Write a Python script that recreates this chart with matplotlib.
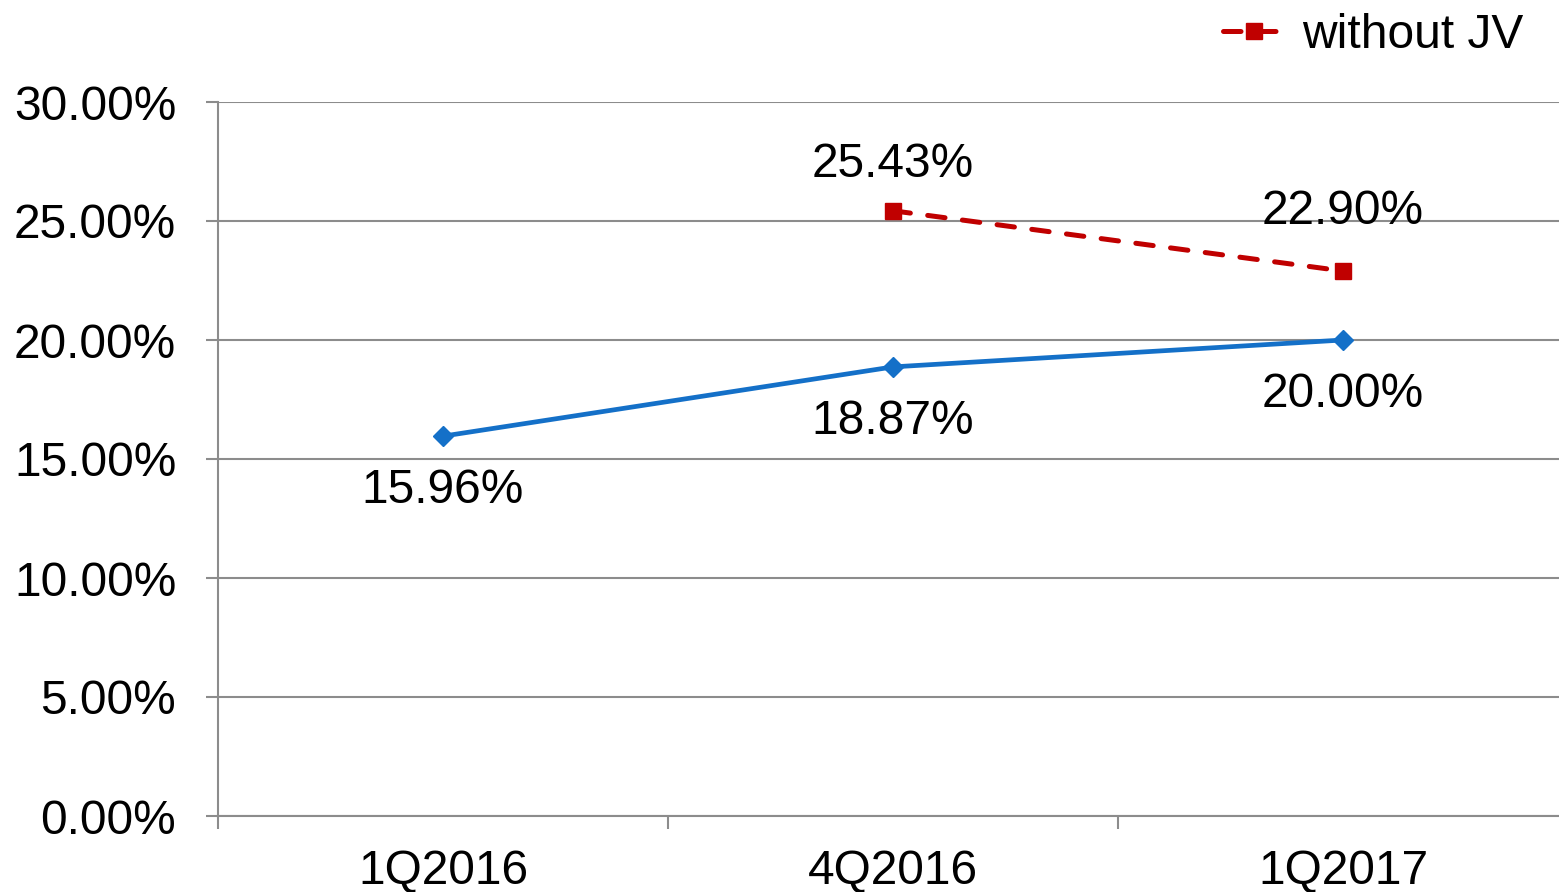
import matplotlib
matplotlib.use("Agg")
import matplotlib.pyplot as plt
from matplotlib.ticker import FuncFormatter

plt.rcParams['font.family'] = ['Liberation Sans', 'DejaVu Sans']

categories = ["1Q2016", "4Q2016", "1Q2017"]
with_jv = [15.96, 18.87, 20.00]
without_jv = [None, 25.43, 22.90]
yticks = [0, 5, 10, 15, 20, 25, 30]

fig = plt.figure(figsize=(15.59, 8.92), dpi=100)
W, H = 1559, 892
ax = fig.add_axes([218 / W, 1 - 816 / H, (1568 - 218) / W, (816 - 102) / H])

x = list(range(len(categories)))
blue = "#1470C8"
red = "#C00000"
grid = "#8C8C8C"

ax.plot(x, with_jv, color=blue, lw=3.4, marker="D", ms=10, zorder=3)
xr = [i for i, v in zip(x, without_jv) if v is not None]
yr = [v for v in without_jv if v is not None]
ax.plot(xr, yr, color=red, lw=3.6, ls=(0, (3.5, 3.5)), dash_capstyle="round",
        marker="s", ms=12, zorder=3, label="without JV")

fs = 34.5
for i, v in zip(x, with_jv):
    ax.annotate(f"{v:.2f}%", (i, v), xytext=(0, -39), textcoords="offset points",
                ha="center", va="center", fontsize=fs)
red_offsets = [None, 33, 43]
for i, v in zip(x, without_jv):
    if v is None:
        continue
    ax.annotate(f"{v:.2f}%", (i, v), xytext=(0, red_offsets[i]), textcoords="offset points",
                ha="center", va="center", fontsize=fs)

ax.set_xlim(-0.5, len(categories) - 0.5)
ax.set_ylim(0, 30)
ax.set_yticks(yticks)
ax.yaxis.set_major_formatter(FuncFormatter(lambda v, p: f"{v:.2f}%"))
ax.set_xticks(x)
ax.set_xticklabels(categories)
ax.set_xticks([i + 0.5 for i in [-1] + x], minor=True)

ax.grid(axis="y", color=grid, lw=1.5)
ax.set_axisbelow(True)
for s in ["top", "right"]:
    ax.spines[s].set_visible(False)
for s in ["left", "bottom"]:
    ax.spines[s].set_color(grid)
    ax.spines[s].set_linewidth(1.5)

ax.tick_params(axis="y", length=9, width=1.5, color=grid, pad=21, labelsize=fs)
ax.tick_params(axis="x", which="major", length=0, pad=24, labelsize=fs)
ax.tick_params(axis="x", which="minor", length=9.5, width=1.5, color=grid)

leg = fig.legend(loc="upper right", bbox_to_anchor=(1542 / W, 1 - (-6) / H), frameon=False,
                 fontsize=fs, handlelength=1.3, handletextpad=0.35, borderaxespad=0)

fig.savefig("out.png", dpi=100)
